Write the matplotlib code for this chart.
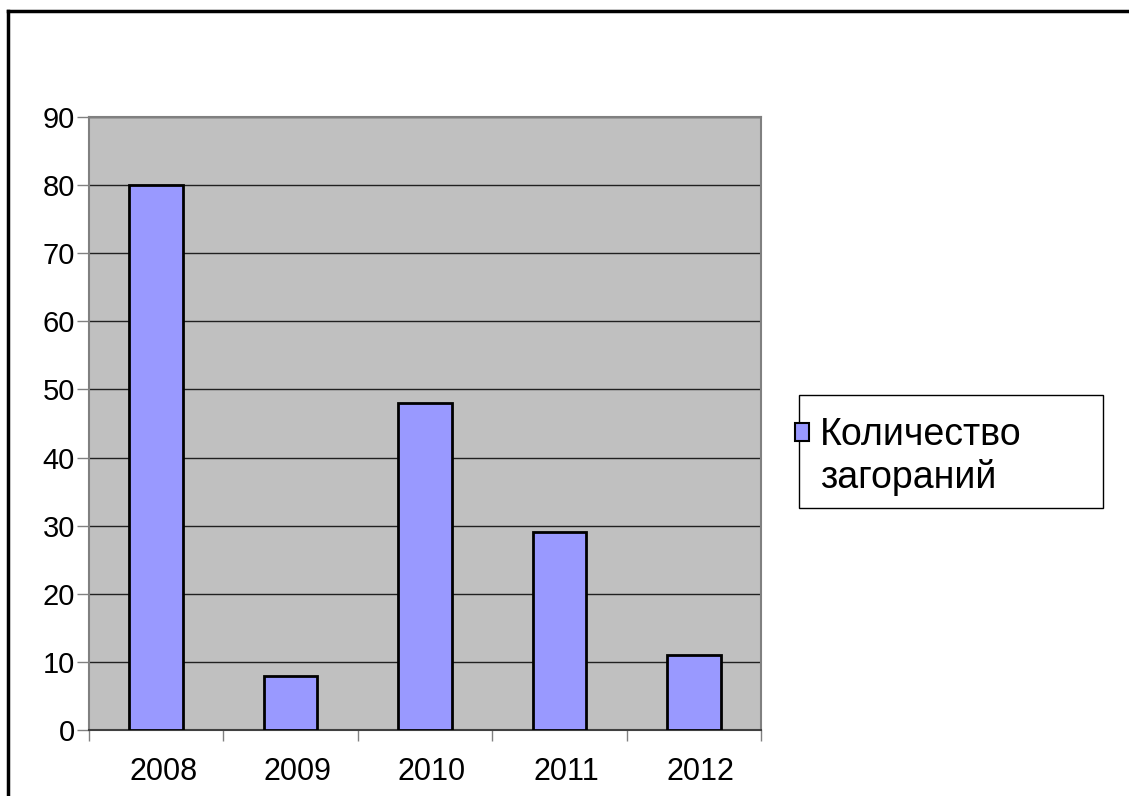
import matplotlib
matplotlib.use("Agg")
import matplotlib.pyplot as plt
import matplotlib.transforms as mtransforms
from matplotlib.lines import Line2D
from matplotlib.patches import Rectangle

plt.rcParams['font.family'] = ['Liberation Sans', 'DejaVu Sans']

# data
years = ['2008', '2009', '2010', '2011', '2012']
fires = [80, 8, 48, 29, 11]
series_name = ['Количество', 'загораний']
yticks = list(range(0, 91, 10))

W, H = 1129, 796
fig = plt.figure(figsize=(W / 100, H / 100), dpi=100)
fig.patch.set_facecolor('white')

# plot area in pixels: left 89, right 761, top 117, bottom 730
ax = fig.add_axes([89 / W, (H - 730) / H, (761 - 89) / W, (730 - 117) / H])
ax.set_facecolor('#C0C0C0')

x = range(len(years))
bars = ax.bar(x, fires, width=0.40, color='#9999FF', edgecolor='black',
              linewidth=2, zorder=3)

ax.set_xlim(-0.5, len(years) - 0.5)
ax.set_ylim(0, 90)
ax.set_yticks(yticks)
ax.yaxis.grid(True, color='#202020', linewidth=1, zorder=1)
ax.set_axisbelow(True)

# category labels centred, ticks on the boundaries
ax.set_xticks(list(x))
ax.set_xticklabels(years)
ax.tick_params(axis='x', which='major', length=0, pad=19.5, labelsize=22)
ax.set_xticks([i - 0.5 for i in range(len(years) + 1)], minor=True)
ax.tick_params(axis='x', which='minor', length=8, width=1, color='#808080',
               direction='out')
ax.tick_params(axis='y', length=8.5, width=1, color='#808080', pad=1.5,
               labelsize=21, direction='out')

# labels sit a little right of the bar centres in the original
shift = mtransforms.ScaledTranslation(7 / 100, 0, fig.dpi_scale_trans)
for lbl in ax.get_xticklabels():
    lbl.set_transform(lbl.get_transform() + shift)

for s in ['top', 'right', 'left']:
    ax.spines[s].set_color('#808080')
    ax.spines[s].set_linewidth(1.5)
ax.spines['bottom'].set_color('#404040')
ax.spines['bottom'].set_linewidth(1.5)

# legend box drawn by hand, legend itself without frame
fig.patches.append(Rectangle((799 / W, (H - 508) / H), (1103 - 799) / W,
                             (508 - 395) / H, transform=fig.transFigure,
                             facecolor='white', edgecolor='black',
                             linewidth=1, zorder=1))
leg = fig.legend(handles=[bars], labels=[series_name[0]],
                 loc='upper left', bbox_to_anchor=(795 / W, (H - 417) / H),
                 frameon=False, fontsize=27, handlelength=0.38,
                 handleheight=0.36, handletextpad=0.29, borderpad=0,
                 borderaxespad=0)
for p in leg.get_patches():
    p.set_linewidth(1.5)

# second line of the legend label, under the first one
fig.canvas.draw()
first = leg.get_texts()[0]
bb = first.get_window_extent()
fig.text(bb.x0 / W, (bb.y0 + 8 - 43) / H, series_name[1], fontsize=27,
         va='baseline', ha='left')

# outer frame (left and top edges visible)
fig.lines.append(Line2D([8 / W, 8 / W], [0, (H - 11) / H],
                        transform=fig.transFigure, color='black', linewidth=2.5))
fig.lines.append(Line2D([8 / W, 1], [(H - 11) / H, (H - 11) / H],
                        transform=fig.transFigure, color='black', linewidth=2.5))

fig.savefig('out.png', dpi=100)
